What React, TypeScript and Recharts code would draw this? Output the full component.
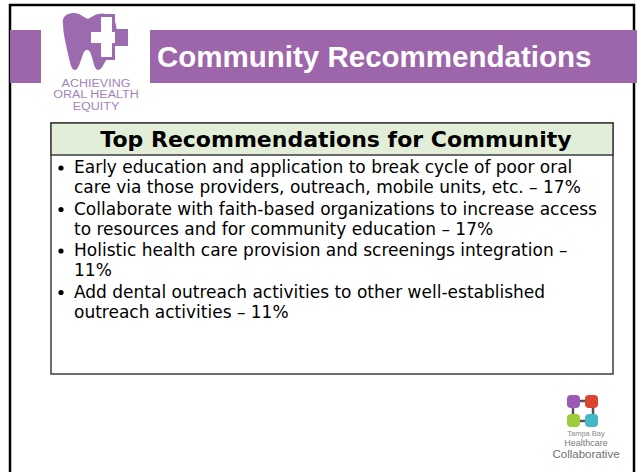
import { Surface, Layer, Rectangle, Text, Dot } from "recharts";

const slideTitle = "Community Recommendations";
const logoCaption = ["ACHIEVING", "ORAL HEALTH", "EQUITY"];
const boxHeading = "Top Recommendations for Community";
const recommendationLines = [
  ["Early education and application to break cycle of poor oral", "care via those providers, outreach, mobile units, etc. –"],
  ["Collaborate with faith-based organizations to increase access", "to resources and for community education –"],
  ["Holistic health care provision and screenings integration –", ""],
  ["Add dental outreach activities to other well-established", "outreach activities –"],
];
const recommendationShares = [17, 17, 11, 11];
const partnerLines = ["Tampa Bay", "Healthcare", "Collaborative"];

const PURPLE = "#9d66ab";
const LOGO_PURPLE = "#9c6aae";

// tooth + cross logo, top left
const ToothLogo = () => (
  <Layer>
    <Rectangle x={41} y={10} width={109} height={106} fill="#ffffff" />
    <path
      d="M 63 24 C 61 14, 72 11, 79 14 C 83 16, 85 18, 88 19 C 93 16, 99 12, 106 14 C 116 16, 118 28, 116 38 C 114 46, 110 53, 106 60 C 103 66, 101 70, 98 70 C 94 70, 93 58, 90 52 C 88 49, 86 49, 84 52 C 81 58, 79 70, 75 70 C 71 70, 70 62, 68 54 C 66 44, 63 34, 63 24 Z"
      fill={LOGO_PURPLE}
    />
    <path d="M 98 14 H 115 V 29 H 128 V 46 H 115 V 60 H 98 V 46 H 88 V 29 H 98 Z" fill={LOGO_PURPLE} />
    <path d="M 101 17 H 112 V 32 H 115 V 43 H 112 V 57 H 101 V 43 H 91 V 32 H 101 Z" fill="#ffffff" />
    {/* caption is a bit wider than the font, stretch it around its centre */}
    <Layer transform="translate(96 0) scale(1.14 1) translate(-96 0)">
      {logoCaption.map((line, i) => (
        <Text
          key={line}
          x={96}
          y={87 + i * 11.5}
          textAnchor="middle"
          fontSize={11}
          fontFamily="Liberation Sans, Arial, sans-serif"
          fill="#a383bc"
        >
          {line}
        </Text>
      ))}
    </Layer>
  </Layer>
);

// partner logo, bottom right
const PartnerLogo = () => {
  const colors = ["#9b59b6", "#d9452e", "#9ccc3a", "#45b8c8"];
  return (
    <Layer>
      <Rectangle x={573} y={401} width={20} height={20} fill="none" stroke="#555" strokeWidth={2.5} />
      {colors.map((c, i) => (
        <Rectangle
          key={c}
          x={567 + (i % 2) * 18}
          y={395 + Math.floor(i / 2) * 19}
          width={13}
          height={13}
          radius={4}
          fill={c}
        />
      ))}
      {partnerLines.map((line, i) => (
        <Text
          key={line}
          x={586}
          y={[436, 446, 458][i]}
          textAnchor="middle"
          fontSize={[7.5, 9, 11.5][i]}
          fontFamily="Liberation Sans, Arial, sans-serif"
          fill={["#8a8a8a", "#7a7a7a", "#6f6f6f"][i]}
        >
          {line}
        </Text>
      ))}
    </Layer>
  );
};

export default function App() {
  const lineGap = 20;
  const itemGap = 21.5;
  let y = 173;
  const rows: { text: string; y: number; bullet: boolean }[] = [];
  recommendationLines.forEach((lines, i) => {
    lines.forEach((line, j) => {
      const last = j === lines.length - 1;
      const text = last ? `${line} ${recommendationShares[i]}%`.trim() : line;
      rows.push({ text, y, bullet: j === 0 });
      y += last ? itemGap : lineGap;
    });
  });

  return (
    <div style={{ position: "absolute", left: 0, top: 0, width: 637, height: 472, background: "#fff" }}>
      <Surface width={637} height={472}>
        <Rectangle x={10} y={5} width={624} height={480} fill="#ffffff" stroke="#000" strokeWidth={2.5} />
        <Rectangle x={10} y={30} width={31} height={53} fill={PURPLE} />
        <Rectangle x={150} y={30} width={487} height={53} fill={PURPLE} />
        <Text
          x={157}
          y={67}
          fontSize={29.5}
          fontWeight="bold"
          fontFamily="Liberation Sans, Arial, sans-serif"
          fill="#ffffff"
        >
          {slideTitle}
        </Text>
        <ToothLogo />

        <Rectangle x={51} y={123} width={562} height={251} fill="#ffffff" stroke="#3c3c3c" strokeWidth={1.5} />
        <Rectangle x={51} y={123} width={562} height={32} fill="#e2eed8" stroke="#3c3c3c" strokeWidth={1.5} />
        <Text
          x={336}
          y={147}
          textAnchor="middle"
          fontSize={22}
          fontWeight="bold"
          fontFamily="DejaVu Sans, Verdana, sans-serif"
          fill="#000"
        >
          {boxHeading}
        </Text>
        {rows.map((r, i) => (
          <Layer key={i}>
            {r.bullet && <Dot cx={61} cy={r.y - 5} r={2.6} fill="#000" />}
            <Text x={74} y={r.y} fontSize={17} fontFamily="DejaVu Sans, Verdana, sans-serif" fill="#000">
              {r.text}
            </Text>
          </Layer>
        ))}

        <PartnerLogo />
      </Surface>
    </div>
  );
}
